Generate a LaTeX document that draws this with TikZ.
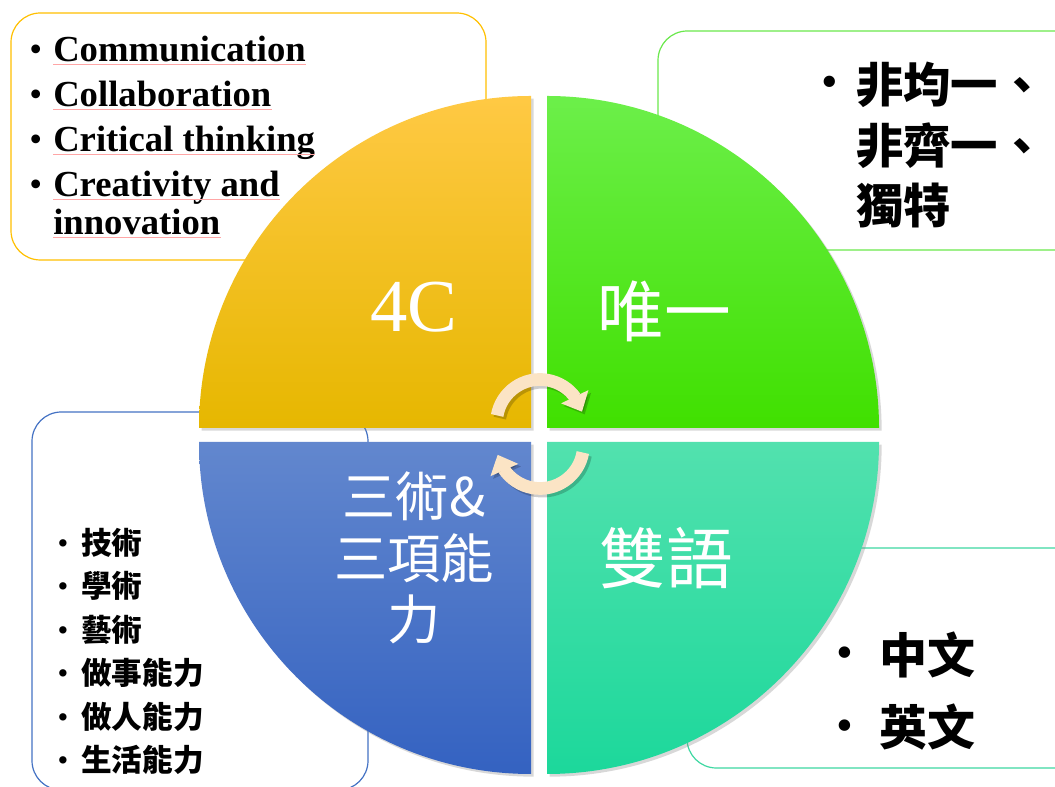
\documentclass[tikz,border=0pt]{standalone}
\usepackage{fontspec}
\setmainfont{Liberation Serif}
\newfontfamily\cjk{Noto Sans CJK TC}
\usetikzlibrary{arrows.meta,bending,shadows}
\definecolor{yellowtop}{HTML}{FFC944}
\definecolor{yellowbot}{HTML}{E6B700}
\definecolor{greentop}{HTML}{6CEF4A}
\definecolor{greenbot}{HTML}{40E000}
\definecolor{bluetop}{HTML}{6287CE}
\definecolor{bluebot}{HTML}{3462C1}
\definecolor{tealtop}{HTML}{52E1AE}
\definecolor{tealbot}{HTML}{1CD89B}
\definecolor{yellowline}{HTML}{FFC000}
\definecolor{greenline}{HTML}{6AE84C}
\definecolor{blueline}{HTML}{4472C4}
\definecolor{tealline}{HTML}{3ED8A2}
\definecolor{cream}{HTML}{FBE4C5}
\tikzstyle{infobox} = [line width=0.9pt, rounded corners=22pt, fill=white]
\tikzstyle{quadrant} = [drop shadow={shadow xshift=2pt, shadow yshift=-2pt, opacity=0.3}]
\tikzstyle{whitetext} = [text=white, inner sep=0pt]
\tikzstyle{tltext} = [inner sep=0pt, anchor=base west, font=\fontsize{27.5}{33}\selectfont\bfseries]
\tikzstyle{spell} = [draw=red!35, line width=0.5pt]
\tikzstyle{cjktext} = [inner sep=0pt, anchor=west]
\tikzstyle{dot} = [inner sep=0pt]
\tikzstyle{cyclearrow} = [line width=9.5pt, draw=cream, -{Triangle[length=12.5pt, width=22pt]}]
\tikzstyle{cycleshadow} = [cyclearrow, draw=black, opacity=0.2, transform canvas={shift={(2pt,-2pt)}}]
\begin{document}
\begin{tikzpicture}[x=0.75pt, y=0.75pt]
	\useasboundingbox (0,0) rectangle (1055,787);
	\clip (0,0) rectangle (1055,787);
	\fill[white] (0,0) rectangle (1055,787);
	\draw[infobox, draw=yellowline] (11,527) rectangle (486,774);
	\draw[infobox, draw=greenline] (658,537) rectangle (1085,756);
	\draw[infobox, draw=blueline] (32,-3) rectangle (368,375);
	\draw[infobox, draw=tealline] (687,19) rectangle (1085,239);
	\path[quadrant, top color=yellowtop, bottom color=yellowbot] (531,359) -- (199,359) arc[start angle=180, end angle=90, radius=332] -- cycle;
	\path[quadrant, top color=greentop, bottom color=greenbot] (547,359) -- (547,691) arc[start angle=90, end angle=0, radius=332] -- cycle;
	\path[quadrant, top color=bluetop, bottom color=bluebot] (531,345) -- (199,345) arc[start angle=180, end angle=270, radius=332] -- cycle;
	\path[quadrant, top color=tealtop, bottom color=tealbot] (547,345) -- (879,345) arc[start angle=0, end angle=-90, radius=332] -- cycle;
	\coordinate (upc) at (540,364);
	\coordinate (lowc) at (540,342);
	\draw[cycleshadow] ([shift={(170:43.5)}]upc) arc[start angle=170, end angle=15, radius=43.5];
	\draw[cycleshadow] ([shift={(-10:43.5)}]lowc) arc[start angle=-10, end angle=-167, radius=43.5];
	\draw[cyclearrow] ([shift={(170:43.5)}]upc) arc[start angle=170, end angle=15, radius=43.5];
	\draw[cyclearrow] ([shift={(-10:43.5)}]lowc) arc[start angle=-10, end angle=-167, radius=43.5];
	\node[whitetext, font=\fontsize{56}{60}\selectfont] (fourc) at (414,480) {4C};
	\node[whitetext, font=\cjk\fontsize{50}{56}\selectfont] (unique) at (664,476) {唯一};
	\node[whitetext, font=\cjk\fontsize{50}{56}\selectfont] (bilingual) at (666,229) {雙語};
	\node[whitetext, font=\cjk\fontsize{40}{46}\selectfont, align=center] (skills) at (414,229) {三術\&\\三項能\\力};
	\foreach \t [count=\i] in {Communication, Collaboration, Critical thinking, Creativity and} {
		\node[tltext] (tl\i) at (53,770-45*\i) {\t};
		\node[tltext, font=\fontsize{27.5}{33}\selectfont] (tlb\i) at (29,770-45*\i) {\textbullet};
		\draw[spell] ([yshift=-1.5pt]tl\i.base west) -- ([yshift=-1.5pt]tl\i.base east);
	}
	\node[tltext] (tl5) at (53,552) {innovation};
	\draw[spell] ([yshift=-1.5pt]tl5.base west) -- ([yshift=-1.5pt]tl5.base east);
	\node[dot, font=\fontsize{35.5}{40}\selectfont] (trb) at (830,700) {\textbullet};
	\node[cjktext, font=\cjk\bfseries\fontsize{35.5}{40}\selectfont] (tr1) at (856,702) {非均一、};
	\node[cjktext, font=\cjk\bfseries\fontsize{35.5}{40}\selectfont] (tr2) at (856,641) {非齊一、};
	\node[cjktext, font=\cjk\bfseries\fontsize{35.5}{40}\selectfont] (tr3) at (856,581) {獨特};
	\foreach \t [count=\i] in {技術, 學術, 藝術, 做事能力, 做人能力, 生活能力} {
		\node[dot, font=\fontsize{23}{26}\selectfont] (blb\i) at (63,284-43.5*\i) {\textbullet};
		\node[cjktext, font=\cjk\bfseries\fontsize{23}{26}\selectfont] (bl\i) at (81,288-43.5*\i) {\t};
	}
	\node[dot, font=\fontsize{36}{40}\selectfont] (brb1) at (845,129) {\textbullet};
	\node[cjktext, font=\cjk\bfseries\fontsize{36}{40}\selectfont] (br1) at (879,132) {中文};
	\node[dot, font=\fontsize{36}{40}\selectfont] (brb2) at (845,56) {\textbullet};
	\node[cjktext, font=\cjk\bfseries\fontsize{36}{40}\selectfont] (br2) at (879,60) {英文};
\end{tikzpicture}
\end{document}
